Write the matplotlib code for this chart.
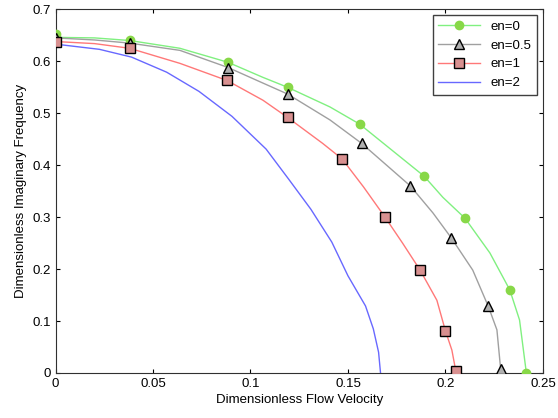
import matplotlib
matplotlib.use("Agg")
import matplotlib.pyplot as plt

plt.rcParams['font.family'] = ['Liberation Sans', 'DejaVu Sans']

# en=0 (green circles) - marker points
en0_mx = [0.0, 0.038, 0.0885, 0.119, 0.156, 0.189, 0.210, 0.233, 0.2415]
en0_my = [0.652, 0.640, 0.598, 0.550, 0.479, 0.379, 0.298, 0.160, 0.0]
# en=0 curve
en0_x = [0.0, 0.02, 0.038, 0.0638, 0.0885, 0.1064, 0.119, 0.1408, 0.156,
         0.189, 0.1987, 0.210, 0.2228, 0.233, 0.238, 0.2415]
en0_y = [0.646, 0.645, 0.640, 0.625, 0.598, 0.569, 0.550, 0.512, 0.479,
         0.379, 0.338, 0.298, 0.231, 0.160, 0.102, 0.0]

# en=0.5 (gray triangles)
en05_mx = [0.0, 0.038, 0.0885, 0.119, 0.157, 0.182, 0.203, 0.222, 0.2285]
en05_my = [0.645, 0.635, 0.588, 0.537, 0.442, 0.360, 0.260, 0.128, 0.007]
en05_x = [0.0, 0.02, 0.038, 0.0638, 0.0885, 0.1064, 0.119, 0.1408, 0.157,
          0.182, 0.1936, 0.203, 0.214, 0.222, 0.2264, 0.2285]
en05_y = [0.645, 0.641, 0.635, 0.621, 0.588, 0.558, 0.537, 0.487, 0.442,
          0.360, 0.308, 0.260, 0.198, 0.128, 0.083, 0.0]

# en=1 (red squares)
en1_mx = [0.0, 0.038, 0.088, 0.119, 0.147, 0.169, 0.187, 0.200, 0.2055]
en1_my = [0.638, 0.625, 0.563, 0.492, 0.412, 0.300, 0.198, 0.081, 0.004]
en1_x = [0.0, 0.02, 0.038, 0.0638, 0.088, 0.1064, 0.119, 0.137, 0.147,
         0.158, 0.169, 0.178, 0.187, 0.1956, 0.200, 0.2033, 0.2055]
en1_y = [0.638, 0.634, 0.625, 0.596, 0.563, 0.525, 0.492, 0.442, 0.412,
         0.358, 0.300, 0.250, 0.198, 0.140, 0.081, 0.044, 0.0]

# en=2 (blue line, no markers)
en2_x = [0.0, 0.0225, 0.039, 0.057, 0.0736, 0.0905, 0.108, 0.1196, 0.131,
         0.1417, 0.150, 0.159, 0.163, 0.1657, 0.1667]
en2_y = [0.633, 0.623, 0.608, 0.579, 0.542, 0.494, 0.431, 0.373, 0.315,
         0.252, 0.187, 0.129, 0.085, 0.040, 0.0]

fig = plt.figure(figsize=(5.58, 4.18), dpi=100)
ax = fig.add_axes([0.0995, 0.1077, 0.8735, 0.870])

ax.plot(en0_x, en0_y, color='#80f080', lw=1.0)
ax.plot(en05_x, en05_y, color='#a0a0a0', lw=1.0)
ax.plot(en1_x, en1_y, color='#ff7878', lw=1.0)
ax.plot(en2_x, en2_y, color='#6868ff', lw=1.0, label='en=2')

ax.plot(en0_mx, en0_my, ls='none', marker='o', ms=6,
        mfc='#88d848', mec='#88d848', zorder=3)
ax.plot(en05_mx, en05_my, ls='none', marker='^', ms=6.5,
        mfc='#b0b0b0', mec='black', mew=1.0, zorder=3)
ax.plot(en1_mx, en1_my, ls='none', marker='s', ms=6.5,
        mfc='#d89090', mec='black', mew=1.0, zorder=3)

# legend handles
h0, = ax.plot([], [], color='#80f080', lw=1.0, marker='o', ms=6,
              mfc='#88d848', mec='#88d848', label='en=0')
h05, = ax.plot([], [], color='#a0a0a0', lw=1.0, marker='^', ms=6.5,
               mfc='#b0b0b0', mec='black', mew=1.0, label='en=0.5')
h1, = ax.plot([], [], color='#ff7878', lw=1.0, marker='s', ms=6.5,
              mfc='#d89090', mec='black', mew=1.0, label='en=1')
h2 = ax.lines[3]

ax.set_xlim(0, 0.25)
ax.set_ylim(0, 0.7)
ax.set_xticks([0, 0.05, 0.1, 0.15, 0.2, 0.25])
ax.set_xticklabels(['0', '0.05', '0.1', '0.15', '0.2', '0.25'])
ax.set_yticks([0, 0.1, 0.2, 0.3, 0.4, 0.5, 0.6, 0.7])
ax.set_yticklabels(['0', '0.1', '0.2', '0.3', '0.4', '0.5', '0.6', '0.7'])
ax.tick_params(direction='in', top=True, right=True, length=3, labelsize=9.5)
for s in ax.spines.values():
    s.set_color('#303030')

ax.set_xlabel('Dimensionless Flow Velocity', fontsize=9.5, labelpad=3)
ax.set_ylabel('Dimensionless Imaginary Frequency', fontsize=9.5, labelpad=4)

leg = ax.legend(handles=[h0, h05, h1, h2], loc='upper right', fontsize=9.5,
                fancybox=False, edgecolor='#404040', framealpha=1,
                handlelength=3.2, borderaxespad=0.45)
leg.get_frame().set_linewidth(1.0)

fig.savefig('out.png', dpi=100)
